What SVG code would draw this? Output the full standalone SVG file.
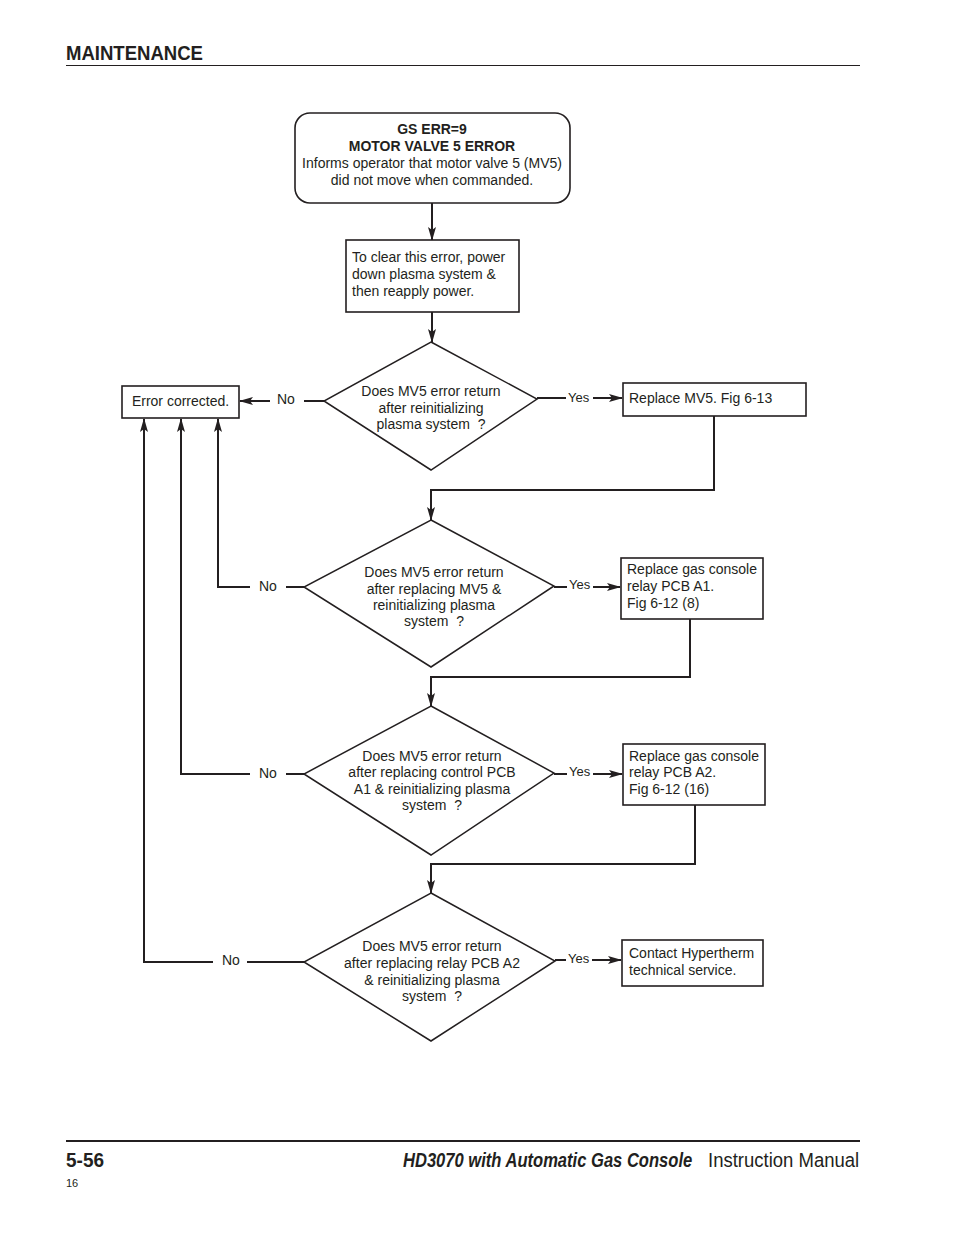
<svg xmlns="http://www.w3.org/2000/svg" width="954" height="1235" viewBox="0 0 954 1235">
<style>
text{font-family:"Liberation Sans",Arial,sans-serif;fill:#231f20}
.t{font-size:14px}
.c{text-anchor:middle}
.b{font-weight:bold}
.box{fill:#fff;stroke:#231f20;stroke-width:1.6}
.dia{fill:#fff;stroke:#231f20;stroke-width:1.5}
.ln{fill:none;stroke:#231f20;stroke-width:2}
</style>
<defs>
<marker id="ah" markerUnits="userSpaceOnUse" markerWidth="14" markerHeight="8" refX="13" refY="4" orient="auto">
<path d="M0,0 L14,4 L0,8 L3,4 z" fill="#231f20"/>
</marker>
</defs>
<rect width="954" height="1235" fill="#fff"/>
<g id="header">
<text x="66" y="60" class="b" font-size="19.5" textLength="137" lengthAdjust="spacingAndGlyphs">MAINTENANCE</text>
<line x1="66" y1="65.5" x2="860" y2="65.5" stroke="#231f20" stroke-width="1.2"/>
</g>
<g id="footer">
<line x1="66" y1="1141" x2="860" y2="1141" stroke="#231f20" stroke-width="2.2"/>
<text x="66" y="1167" class="b" font-size="19.5" textLength="38" lengthAdjust="spacingAndGlyphs">5-56</text>
<text transform="translate(403,1167) scale(0.85,1)" x="0" y="0" font-size="19.5" font-weight="bold" font-style="italic">HD3070 with Automatic Gas Console</text>
<text transform="translate(708,1167) scale(0.95,1)" x="0" y="0" font-size="19.5">Instruction Manual</text>
<text x="66" y="1187" font-size="11">16</text>
</g>
<g id="connectors">
<line class="ln" x1="432" y1="203" x2="432" y2="240" marker-end="url(#ah)" stroke-width="1.5"/>
<line class="ln" x1="432" y1="312" x2="432" y2="342" marker-end="url(#ah)"/>
<line class="ln" x1="324" y1="401" x2="304" y2="401"/>
<line class="ln" x1="270" y1="401" x2="240" y2="401" marker-end="url(#ah)"/>
<line class="ln" x1="537" y1="398" x2="566" y2="398" stroke-width="1.6"/>
<line class="ln" x1="593" y1="398" x2="622" y2="398" marker-end="url(#ah)"/>
<polyline class="ln" points="714,416 714,490 431,490 431,520" marker-end="url(#ah)"/>
<polyline class="ln" points="304,587 286,587"/>
<polyline class="ln" points="250,587 218,587 218,419" marker-end="url(#ah)" stroke-width="1.6"/>
<line class="ln" x1="554" y1="587" x2="567" y2="587" stroke-width="1.6"/>
<line class="ln" x1="593" y1="587" x2="620" y2="587" marker-end="url(#ah)"/>
<polyline class="ln" points="690,619 690,677 431,677 431,706" marker-end="url(#ah)"/>
<polyline class="ln" points="304,774 286,774"/>
<polyline class="ln" points="250,774 181,774 181,419" marker-end="url(#ah)"/>
<line class="ln" x1="554" y1="774" x2="567" y2="774" stroke-width="1.6"/>
<line class="ln" x1="593" y1="774" x2="622" y2="774" marker-end="url(#ah)"/>
<polyline class="ln" points="695,805 695,864 431,864 431,893" marker-end="url(#ah)" stroke-width="1.6"/>
<polyline class="ln" points="304,962 247,962"/>
<polyline class="ln" points="213,962 144,962 144,419" marker-end="url(#ah)"/>
<line class="ln" x1="555" y1="960" x2="566" y2="960" stroke-width="1.6"/>
<line class="ln" x1="592" y1="960" x2="621" y2="960" marker-end="url(#ah)"/>
</g>
<g id="labels" class="t">
<text x="277" y="404">No</text>
<text x="568" y="402" font-size="13">Yes</text>
<text x="259" y="591">No</text>
<text x="569" y="589" font-size="13">Yes</text>
<text x="259" y="778">No</text>
<text x="569" y="776" font-size="13">Yes</text>
<text x="222" y="965">No</text>
<text x="568" y="963" font-size="13">Yes</text>
</g>
<g id="start">
<rect class="box" x="295" y="113" width="275" height="90" rx="15"/>
<text class="t c b" x="432" y="134">GS ERR=9</text>
<text class="t c b" x="432" y="151">MOTOR VALVE 5 ERROR</text>
<text class="t c" x="432" y="168">Informs operator that motor valve 5 (MV5)</text>
<text class="t c" x="432" y="185">did not move when commanded.</text>
</g>
<g id="clear">
<rect class="box" x="346" y="240" width="173" height="72" stroke-width="2"/>
<text class="t" x="352" y="262">To clear this error, power</text>
<text class="t" x="352" y="279">down plasma system &amp;</text>
<text class="t" x="352" y="296">then reapply power.</text>
</g>
<g id="corrected">
<rect class="box" x="122" y="386" width="117" height="32"/>
<text class="t c" x="180.5" y="406">Error corrected.</text>
</g>
<g id="d1">
<polygon class="dia" points="431,342 537,399 431,470 324,401"/>
<text class="t c" x="431" y="396">Does MV5 error return</text>
<text class="t c" x="431" y="413">after reinitializing</text>
<text class="t c" x="431" y="429" xml:space="preserve">plasma system  ?</text>
</g>
<g id="r1">
<rect class="box" x="623" y="383" width="183" height="33"/>
<text class="t" x="629" y="403">Replace MV5. Fig 6-13</text>
</g>
<g id="d2">
<polygon class="dia" points="431,520 554,586 431,667 304,587"/>
<text class="t c" x="434" y="577">Does MV5 error return</text>
<text class="t c" x="434" y="594">after replacing MV5 &amp;</text>
<text class="t c" x="434" y="610">reinitializing plasma</text>
<text class="t c" x="434" y="626" xml:space="preserve">system  ?</text>
</g>
<g id="r2">
<rect class="box" x="621" y="558" width="142" height="61"/>
<text class="t" x="627" y="574">Replace gas console</text>
<text class="t" x="627" y="591">relay PCB A1.</text>
<text class="t" x="627" y="608">Fig 6-12 (8)</text>
</g>
<g id="d3">
<polygon class="dia" points="431,706 554,773 431,855 304,774"/>
<text class="t c" x="432" y="761">Does MV5 error return</text>
<text class="t c" x="432" y="777">after replacing control PCB</text>
<text class="t c" x="432" y="794">A1 &amp; reinitializing plasma</text>
<text class="t c" x="432" y="810" xml:space="preserve">system  ?</text>
</g>
<g id="r3">
<rect class="box" x="623" y="744" width="142" height="61"/>
<text class="t" x="629" y="761">Replace gas console</text>
<text class="t" x="629" y="777">relay PCB A2.</text>
<text class="t" x="629" y="794">Fig 6-12 (16)</text>
</g>
<g id="d4">
<polygon class="dia" points="431,893 555,961 431,1041 304,962"/>
<text class="t c" x="432" y="951">Does MV5 error return</text>
<text class="t c" x="432" y="968">after replacing relay PCB A2</text>
<text class="t c" x="432" y="985">&amp; reinitializing plasma</text>
<text class="t c" x="432" y="1001" xml:space="preserve">system  ?</text>
</g>
<g id="r4">
<rect class="box" x="622" y="940" width="141" height="46"/>
<text class="t" x="629" y="958">Contact Hypertherm</text>
<text class="t" x="629" y="975">technical service.</text>
</g>
</svg>
